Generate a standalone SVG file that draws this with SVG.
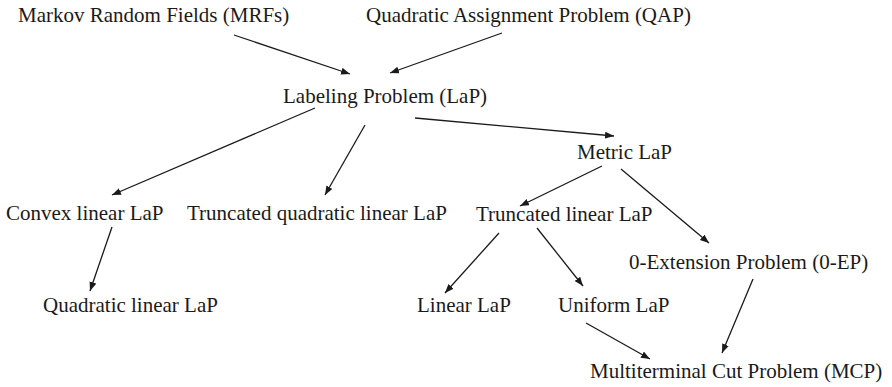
<svg xmlns="http://www.w3.org/2000/svg" width="892" height="387" viewBox="0 0 892 387">
<style>
text{font-family:"Liberation Serif","Times New Roman",serif;font-size:21px;fill:#1a1a1a}
.c line{stroke:#1a1a1a;stroke-width:1.3;marker-end:url(#ah)}
</style>
<defs>
<marker id="ah" markerUnits="userSpaceOnUse" markerWidth="10" markerHeight="8" refX="9" refY="3.5" orient="auto">
<path d="M0,0 L9,3.5 L0,7 z" fill="#1a1a1a"/>
</marker>
</defs>
<rect width="892" height="387" fill="#fff"/>
<g class="c" id="connectors">
<line x1="234" y1="35" x2="350" y2="74"/>
<line x1="502" y1="33" x2="390" y2="73"/>
<line x1="315" y1="108" x2="112" y2="195"/>
<line x1="365" y1="125" x2="325" y2="195"/>
<line x1="415" y1="118" x2="614" y2="136"/>
<line x1="602" y1="166" x2="520" y2="206"/>
<line x1="621" y1="169" x2="709" y2="243"/>
<line x1="112" y1="227" x2="90" y2="291"/>
<line x1="499" y1="233" x2="445" y2="293"/>
<line x1="537" y1="228" x2="583" y2="286"/>
<line x1="753" y1="279" x2="722" y2="353"/>
<line x1="586" y1="323" x2="650" y2="359"/>
</g>
<g id="mrf"><text x="18" y="22">Markov Random Fields (MRFs)</text></g>
<g id="qap"><text x="366" y="22">Quadratic Assignment Problem (QAP)</text></g>
<g id="lap"><text x="283" y="103">Labeling Problem (LaP)</text></g>
<g id="metric"><text x="577" y="159">Metric LaP</text></g>
<g id="convex"><text x="6" y="220">Convex linear LaP</text></g>
<g id="truncquad"><text x="187" y="220">Truncated quadratic linear LaP</text></g>
<g id="trunclin"><text x="476" y="221">Truncated linear LaP</text></g>
<g id="zeroep"><text x="629" y="269">0-Extension Problem (0-EP)</text></g>
<g id="quadlin"><text x="43" y="312">Quadratic linear LaP</text></g>
<g id="linear"><text x="417" y="312">Linear LaP</text></g>
<g id="uniform"><text x="558" y="312">Uniform LaP</text></g>
<g id="mcp"><text x="590" y="378">Multiterminal Cut Problem (MCP)</text></g>
</svg>
